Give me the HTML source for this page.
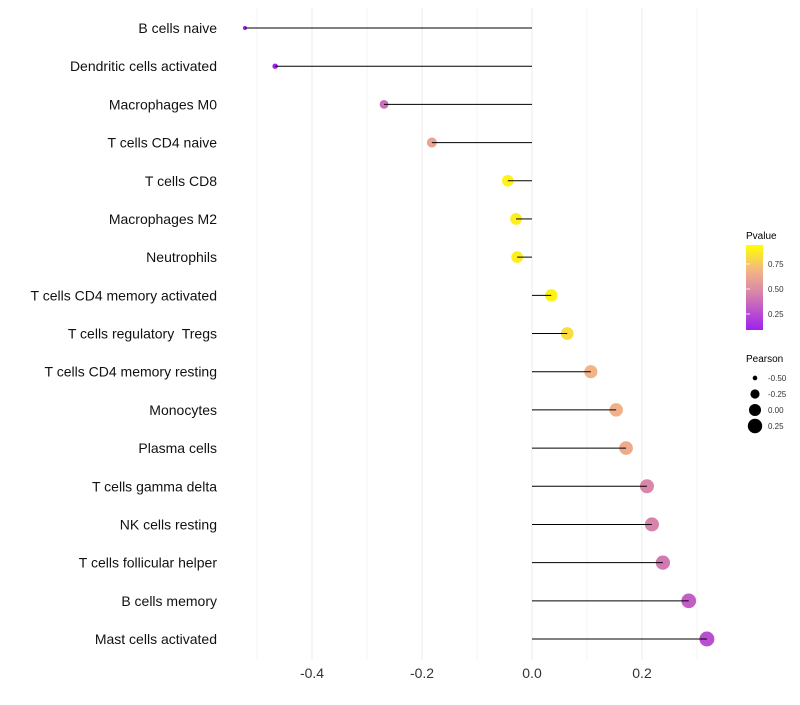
<!DOCTYPE html>
<html><head><meta charset="utf-8"><style>
body{margin:0;background:#fff;}
svg text{font-family:"Liberation Sans",sans-serif;white-space:pre;}
</style></head><body>
<svg id="chart" width="800" height="700" xmlns="http://www.w3.org/2000/svg">
<defs>
<linearGradient id="pg" x1="0" y1="1" x2="0" y2="0">
<stop offset="0" stop-color="#A020F0"/>
<stop offset="0.45" stop-color="#D987A8"/>
<stop offset="0.7" stop-color="#F3B585"/>
<stop offset="1" stop-color="#FFFF00"/>
</linearGradient>
</defs>
<g id="grid"></g>
<g id="marks"></g>
<g id="ylabels"></g>
<g id="xlabels"></g>
<g>
<text x="746" y="239" font-size="10" fill="#000">Pvalue</text>
<rect x="746" y="245" width="17" height="85" fill="url(#pg)"/>
<g id="cbticks"></g>
</g>
<g id="sizelegend">
<text x="746" y="362" font-size="10" fill="#000">Pearson</text>
</g>
</svg>
<script>
const categories=["B cells naive","Dendritic cells activated","Macrophages M0","T cells CD4 naive","T cells CD8","Macrophages M2","Neutrophils","T cells CD4 memory activated","T cells regulatory  Tregs","T cells CD4 memory resting","Monocytes","Plasma cells","T cells gamma delta","NK cells resting","T cells follicular helper","B cells memory","Mast cells activated"];
const pearson=[-0.522,-0.467,-0.269,-0.182,-0.044,-0.029,-0.027,0.035,0.064,0.107,0.153,0.171,0.209,0.218,0.238,0.285,0.318];
const pvalues=[0.05,0.06,0.38,0.6,0.9,0.88,0.88,0.9,0.82,0.68,0.66,0.64,0.47,0.46,0.42,0.32,0.26];
const xTicks=[-0.4,-0.2,0.0,0.2];
const xMinor=[-0.5,-0.3,-0.1,0.1,0.3];
const cbTicks=[0.25,0.50,0.75];
const sizeLegend=[-0.50,-0.25,0.00,0.25];

const NS="http://www.w3.org/2000/svg";
const x=v=>532+v*550;
const y=i=>28+i*(611/16);
const r=v=>Math.sqrt(Math.max(2,4+(v+0.522)/0.84*52));
const stops=[[0,[160,32,240]],[0.45,[217,135,168]],[0.7,[243,181,133]],[1,[255,255,0]]];
function col(p){let t=(p-0.09)/(0.94-0.09);t=Math.max(0,Math.min(1,t));
 for(let k=1;k<stops.length;k++){if(t<=stops[k][0]){const a=stops[k-1],b=stops[k];const f=(t-a[0])/(b[0]-a[0]);
 return "rgb("+a[1].map((c,j)=>Math.round(c+(b[1][j]-c)*f)).join(",")+")";}}return "rgb(255,255,0)";}
function mk(tag,attrs,parent){const e=document.createElementNS(NS,tag);for(const k in attrs)e.setAttribute(k,attrs[k]);parent.appendChild(e);return e;}
const grid=document.getElementById('grid'),marks=document.getElementById('marks'),yl=document.getElementById('ylabels'),xl=document.getElementById('xlabels');
xMinor.forEach(v=>{const l=mk('line',{x1:x(v),x2:x(v),y1:8,y2:660,stroke:'#F4F4F4','stroke-width':1},grid);

});
xTicks.forEach(v=>{const l=mk('line',{x1:x(v),x2:x(v),y1:8,y2:660,stroke:'#EEEEEE','stroke-width':1.2},grid);


const t=mk('text',{x:x(v),y:678,'font-size':14,'text-anchor':'middle',fill:'#333'},xl);t.textContent=v===0?"0.0":v.toFixed(1);

});
categories.forEach((c,i)=>{
 const t=mk('text',{x:217,y:y(i)+5,'font-size':14,'text-anchor':'end',fill:'#111'},yl);t.textContent=c;
 
 
 const p=mk('circle',{cx:x(pearson[i]),cy:y(i),r:r(pearson[i]),fill:col(pvalues[i])},marks);
 
 
 const s=mk('line',{x1:x(0),x2:x(pearson[i]),y1:y(i),y2:y(i),stroke:'#000','stroke-width':1},marks);
 
 
});
const cb=document.getElementById('cbticks');
cbTicks.forEach(v=>{const yy=330-(v-0.09)/(0.94-0.09)*85;
 const tl=mk('line',{x1:746,x2:750,y1:yy,y2:yy,stroke:'#fff','stroke-width':0.8},cb);
 
 
 const t=mk('text',{x:768,y:yy+3,'font-size':8,fill:'#333'},cb);t.textContent=v.toFixed(2);
 
 });
const sl=document.getElementById('sizelegend');
sizeLegend.forEach((v,k)=>{const yy=378+k*16;
 const c=mk('circle',{cx:755,cy:yy,r:r(v),fill:'#000'},sl);
 
 
 const t=mk('text',{x:768,y:yy+3,'font-size':8,fill:'#333'},sl);t.textContent=v.toFixed(2);
 
 });
</script>
</body></html>
